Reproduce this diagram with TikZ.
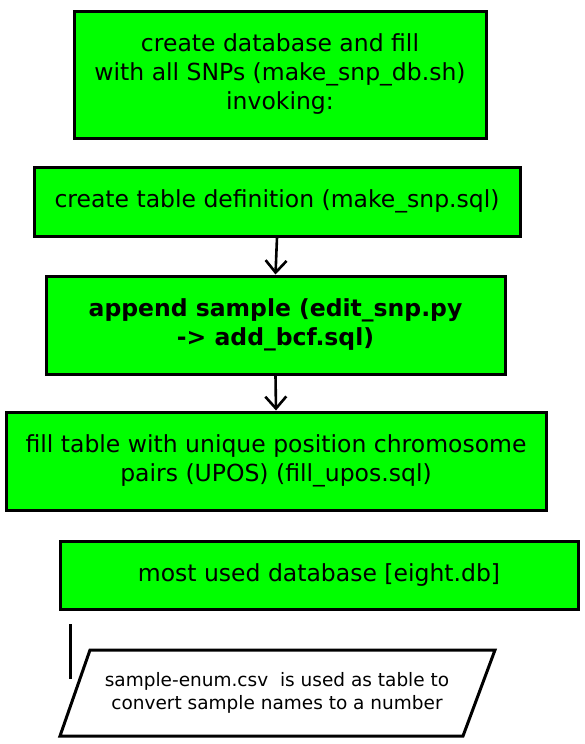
\documentclass[tikz,border=0pt]{standalone}
\usepackage{fontspec}
\setmainfont{DejaVu Sans}
\usetikzlibrary{arrows.meta}
\begin{document}
\begin{tikzpicture}[x=1pt,y=-1pt,
  box/.style={draw=black,line width=3pt,fill={rgb,255:red,0;green,255;blue,0},
    inner sep=0pt,align=center,font=\fontsize{23.5}{29}\selectfont},
  arr/.style={line width=2.6pt,-{Straight Barb[length=12pt,width=21pt,line width=2.6pt]}},
  plain/.style={line width=3pt}]
\useasboundingbox (0,0) rectangle (585,744);
\node[box,minimum width=412pt,minimum height=127pt] (b1) at (280,74.5)
  {create database and fill\\with all SNPs (make\_snp\_db.sh)\\invoking:};
\node[box,minimum width=486pt,minimum height=69pt] (b2) at (277,201.5)
  {create table definition (make\_snp.sql)};
\node[box,minimum width=459pt,minimum height=98pt,font=\fontsize{23.5}{29}\selectfont\bfseries] (b3) at (275.5,325)
  {append sample (edit\_snp.py\\-> add\_bcf.sql)};
\node[box,minimum width=540pt,minimum height=98pt] (b4) at (276,461)
  {fill table with unique position chromosome\\pairs (UPOS) (fill\_upos.sql)};
\node[box,minimum width=518pt,minimum height=68pt] (b5) at (319,575)
  {most used database [eight.db]};
\draw[arr] (b2.south) -- (b3.north);
\draw[arr] (b3.south) -- (b4.north);
\coordinate (l1) at (70,624);
\coordinate (l2) at (70,679);
\draw[plain] (l1) -- (l2);
\coordinate (p1) at (90,650);
\coordinate (p2) at (495,650);
\coordinate (p3) at (463,736);
\coordinate (p4) at (60,736);
\draw[plain,line join=miter] (p1) -- (p2) -- (p3) -- (p4) -- cycle;
\node[align=center,inner sep=0pt,font=\fontsize{18.5}{23}\selectfont] (pt) at (277,693)
  {sample-enum.csv\ \ is used as table to\\convert sample names to a number};
\end{tikzpicture}
\end{document}
